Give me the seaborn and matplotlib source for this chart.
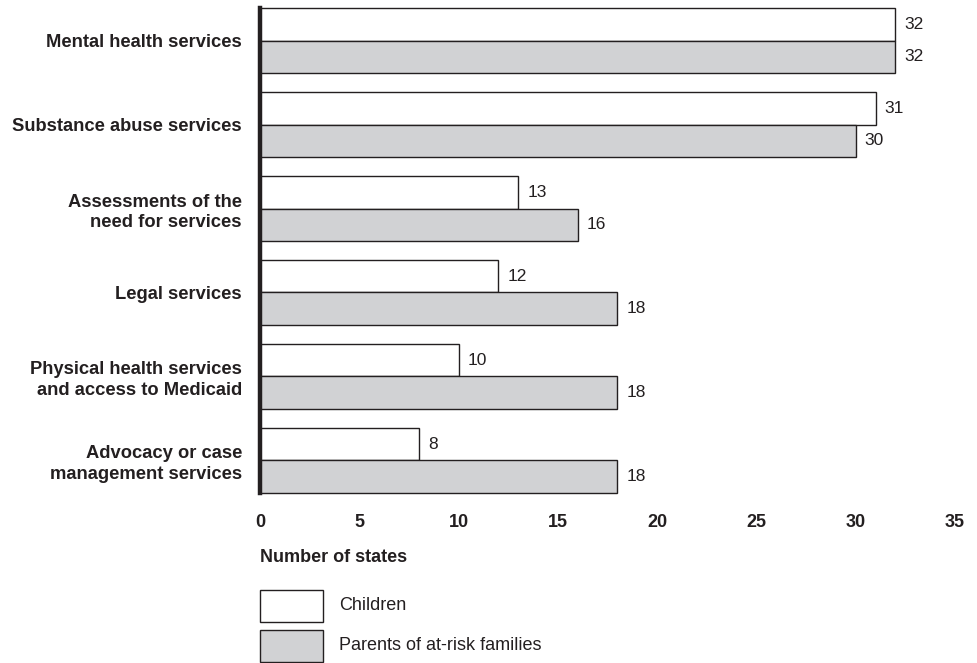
import matplotlib

matplotlib.use("Agg")
import matplotlib.pyplot as plt
import pandas as pd
import seaborn as sns
from matplotlib.patches import Rectangle

categories = [
    "Mental health services",
    "Substance abuse services",
    "Assessments of the\nneed for services",
    "Legal services",
    "Physical health services\nand access to Medicaid",
    "Advocacy or case\nmanagement services",
]
children = [32, 31, 13, 12, 10, 8]
parents = [32, 30, 16, 18, 18, 18]
series_names = ["Children", "Parents of at-risk families"]
series_colors = ["#ffffff", "#d1d2d4"]
x_ticks = [0, 5, 10, 15, 20, 25, 30, 35]

sns.set_style("white")
plt.rcParams["font.family"] = ["Liberation Sans", "DejaVu Sans"]
ink = "#231f20"

df = pd.DataFrame(
    {
        "category": categories * 2,
        "states": children + parents,
        "group": [series_names[0]] * len(categories) + [series_names[1]] * len(categories),
    }
)

fig = plt.figure(figsize=(9.78, 6.63), dpi=100)
W, H = 978, 663
ax = fig.add_axes([260 / W, 1 - 493 / H, (955 - 260) / W, (493 - 8) / H])

sns.barplot(
    data=df,
    x="states",
    y="category",
    hue="group",
    hue_order=series_names,
    palette=series_colors,
    orient="h",
    width=0.774,
    edgecolor=ink,
    linewidth=1.0,
    legend=False,
    ax=ax,
)

for p in ax.patches:
    p.set_clip_on(False)

for cont in ax.containers:
    ax.bar_label(cont, padding=6.5, fontsize=12.5, color=ink)

ax.set_xlim(0, 35)
ax.set_ylim(5.387, -0.387)
ax.set_xticks(x_ticks)
ax.set_xticklabels([str(t) for t in x_ticks], fontweight="bold", fontsize=13, color=ink)
ax.tick_params(axis="x", length=0, pad=15)
ax.tick_params(axis="y", length=0, pad=13)
for lbl in ax.get_yticklabels():
    lbl.set_fontweight("bold")
    lbl.set_fontsize(13.2)
    lbl.set_color(ink)
    lbl.set_linespacing(1.25)

for s in ["top", "right", "bottom"]:
    ax.spines[s].set_visible(False)
ax.spines["left"].set_linewidth(3.2)
ax.spines["left"].set_color(ink)
ax.spines["left"].set_zorder(5)
ax.set_ylabel("")
ax.set_xlabel("")

fig.text(260 / W, 1 - 557 / H, "Number of states", fontweight="bold", fontsize=13,
         color=ink, ha="left", va="center")

# legend drawn by hand: two swatches with labels
for i, (name, col) in enumerate(zip(series_names, series_colors)):
    top = 590 + i * 40
    fig.add_artist(Rectangle((260 / W, 1 - (top + 32) / H), 63 / W, 32 / H,
                             facecolor=col, edgecolor=ink, linewidth=1.0,
                             transform=fig.transFigure))
    fig.text(339 / W, 1 - (top + 16) / H, name, fontsize=13, color=ink,
             ha="left", va="center")

fig.savefig("out.png", dpi=100)
